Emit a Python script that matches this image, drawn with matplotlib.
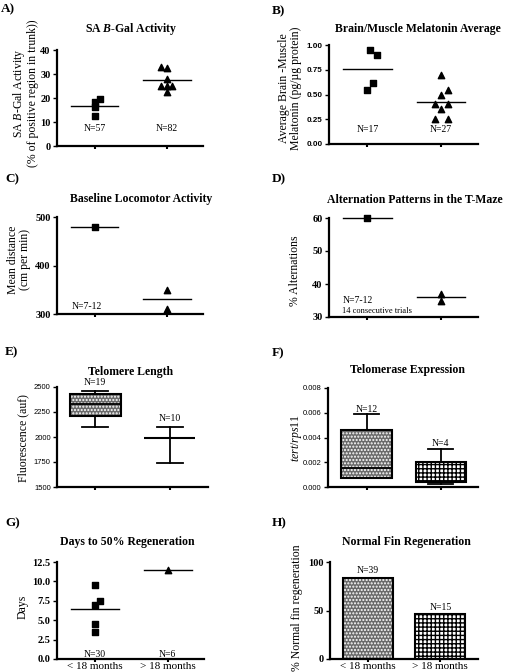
import numpy as np
import matplotlib
matplotlib.use("Agg")
import matplotlib.pyplot as plt
from matplotlib.patches import PathPatch

plt.rcParams['font.family'] = ['Liberation Serif', 'DejaVu Serif']
plt.rcParams['mathtext.fontset'] = 'custom'
plt.rcParams['mathtext.rm'] = 'Liberation Serif'
plt.rcParams['mathtext.it'] = 'Liberation Serif:italic'
plt.rcParams['mathtext.bf'] = 'Liberation Serif:bold'
plt.rcParams['mathtext.bfit'] = 'Liberation Serif:italic:bold'
plt.rcParams['hatch.linewidth'] = 1.0

# ---------------- data ----------------
groups = [1, 2]
group_labels = ["< 18 months", "> 18 months"]

# A) SA B-Gal activity
a_young = [19.4, 18.3, 16.2, 12.7]
a_old = [33.0, 32.4, 27.8, 25.2, 25.2, 25.2, 22.4]
a_n = ["N=57", "N=82"]

# B) Brain/Muscle melatonin
b_young = [0.95, 0.90, 0.615, 0.55]
b_old = [0.70, 0.55, 0.50, 0.40, 0.40, 0.35, 0.25, 0.25]
b_n = ["N=17", "N=27"]

# C) Baseline locomotor activity
c_young = [480]
c_old = [350, 310]

# D) Alternation patterns
d_young = [60]
d_old = [37, 35]

# E) Telomere length (box stats: whislo, q1, med, q3, whishi)
e_young = [2097, 2211, 2332, 2430, 2460]
e_old = [1745, 1990, 1990, 1990, 2097]
e_n = ["N=19", "N=10"]

# F) Telomerase expression
f_young = [0.00072, 0.00072, 0.0015, 0.0046, 0.00586]
f_old = [0.00024, 0.00037, 0.0005, 0.00198, 0.0031]
f_n = ["N=12", "N=4"]

# G) Days to 50% regeneration
g_young = [9.5, 7.5, 7.0, 4.5, 3.5]
g_old = [11.5]
g_n = ["N=30", "N=6"]

# H) Normal fin regeneration
h_vals = [83.6, 46.0]
h_n = ["N=39", "N=15"]

# ---------------- figure ----------------
W, H = 505, 672
fig = plt.figure(figsize=(W / 100, H / 100), dpi=100)

DOT_FACE, DOT_HATCH = '#6a6a6a', '.....'
CHK_HATCH = '++++'


def rect(x0, x1, ytop, ybot):
    return [x0 / W, 1 - ybot / H, (x1 - x0) / W, (ybot - ytop) / H]


def ftext(x, y, s, **kw):
    fig.text(x / W, 1 - y / H, s, **kw)


def style(ax, ylim, yticks, yfmt, sans=False, xlim=(0.48, 2.5)):
    for s in ['top', 'right']:
        ax.spines[s].set_visible(False)
    for s in ['left', 'bottom']:
        ax.spines[s].set_linewidth(1.6)
    ax.set_ylim(*ylim)
    ax.set_xlim(*xlim)
    ax.set_yticks(yticks)
    ax.set_yticklabels([yfmt.format(v) for v in yticks])
    ax.set_xticks(groups)
    ax.set_xticklabels([])
    ax.tick_params(axis='y', direction='out', length=3, width=1.0, pad=1.5)
    ax.tick_params(axis='x', direction='out', length=2, width=1.5)
    for lab in ax.get_yticklabels():
        if sans:
            lab.set_fontfamily('Liberation Sans')
            lab.set_fontsize(5.5)
        else:
            lab.set_fontweight('bold')
            lab.set_fontsize(7.5)
    ax.patch.set_alpha(0)


def scatter_panel(ax, young, old, yo_off, old_off):
    xs_y = [groups[0] + o for o in yo_off]
    xs_o = [groups[1] + o for o in old_off]
    ax.scatter(xs_y, young, marker='s', s=18, color='black', zorder=3, clip_on=False)
    ax.scatter(xs_o, old, marker='^', s=21, color='black', zorder=3, clip_on=False)
    for g, vals in zip(groups, [young, old]):
        m = np.mean(vals)
        ax.plot([g - 0.33, g + 0.33], [m, m], color='black', lw=1.0, zorder=2, clip_on=False)


title_kw = dict(fontsize=8.5, fontweight='bold', ha='center', va='center')
letter_kw = dict(fontsize=9.5, fontweight='bold', ha='left', va='center')
ylab_kw = dict(fontsize=8.5, rotation=90, ha='center', va='center', linespacing=1.0)
n_kw = dict(fontsize=7, ha='center', va='center')

# ---- A ----
axA = fig.add_axes(rect(57, 203, 50, 146))
style(axA, (0, 40), [0, 10, 20, 30, 40], "{:.0f}")
scatter_panel(axA, a_young, a_old, [0.08, 0, 0, 0], [-0.075, 0, 0, -0.075, 0, 0.075, 0])
for g, t in zip(groups, a_n):
    axA.text(g, 7.2, t, **n_kw)
ftext(131, 29, r"SA $\mathbfit{B}$-Gal Activity", **title_kw)
ftext(1, 9, "A)", **letter_kw)
ftext(25, 93, "SA $\\mathit{B}$-Gal Activity\n(% of positive region in trunk))", **ylab_kw)

# ---- B ----
axB = fig.add_axes(rect(329, 478, 45, 144))
style(axB, (0, 1.0), [0, 0.25, 0.5, 0.75, 1.0], "{:.2f}")
for lab in axB.get_yticklabels():
    lab.set_fontfamily('Liberation Sans')
    lab.set_fontsize(5.8)
scatter_panel(axB, b_young, b_old, [0.03, 0.125, 0.08, 0.0], [0, 0.09, 0, -0.08, 0.09, 0, -0.08, 0.09])
for g, t in zip(groups, b_n):
    axB.text(g, 0.145, t, **n_kw)
ftext(418, 29, "Brain/Muscle Melatonin Average", **title_kw)
ftext(272, 11, "B)", **letter_kw)
ftext(290, 88, "Average Brain -Muscle\nMelatonin (pg/\u00b5g protein)", **ylab_kw)

# ---- C ----
axC = fig.add_axes(rect(57, 203, 217, 314))
style(axC, (300, 500), [300, 400, 500], "{:.0f}")
scatter_panel(axC, c_young, c_old, [0], [0, 0])
axC.text(0.69, 315, "N=7-12", fontsize=7, ha='left', va='center')
ftext(141, 199, "Baseline Locomotor Activity", **title_kw)
ftext(5, 179, "C)", **letter_kw)
ftext(19, 260, "Mean distance\n(cm per min)", **ylab_kw)

# ---- D ----
axD = fig.add_axes(rect(329, 478, 218, 317))
style(axD, (30, 60), [30, 40, 50, 60], "{:.0f}")
scatter_panel(axD, d_young, d_old, [0], [0, 0])
axD.text(0.66, 35.0, "N=7-12", fontsize=7, ha='left', va='center')
axD.text(0.66, 31.9, "14 consecutive trials", fontsize=6, ha='left', va='center')
ftext(415, 200, "Alternation Patterns in the T-Maze", **title_kw)
ftext(272, 179, "D)", **letter_kw)
ftext(295, 271, "% Alternations", **ylab_kw)


def box_panel(ax, stats_list, faces, hatches, edges):
    stats = [dict(whislo=s[0], q1=s[1], med=s[2], q3=s[3], whishi=s[4]) for s in stats_list]
    res = ax.bxp(stats, positions=groups, widths=0.68, capwidths=0.34, showfliers=False,
                 patch_artist=True,
                 whiskerprops=dict(color='black', lw=1.3),
                 capprops=dict(color='black', lw=1.3),
                 medianprops=dict(color='black', lw=1.3),
                 manage_ticks=False)
    for p, fc, h, ec in zip(res['boxes'], faces, hatches, edges):
        p.set_facecolor(fc)
        p.set_edgecolor(ec)
        p.set_hatch(h)
        p.set_linewidth(0)
        ax.add_patch(PathPatch(p.get_path(), transform=p.get_transform(), fill=False,
                               edgecolor='black', lw=1.5, zorder=p.get_zorder() + 0.1))
    return res


# ---- E ----
axE = fig.add_axes(rect(57, 208, 387, 487))
style(axE, (1500, 2500), [1500, 1750, 2000, 2250, 2500], "{:.0f}", sans=True, xlim=(0.49, 2.51))
box_panel(axE, [e_young, e_old], [DOT_FACE, 'white'], [DOT_HATCH, ''], ['white', 'black'])
axE.text(groups[0], 2545, e_n[0], clip_on=False, **n_kw)
axE.text(groups[1], 2180, e_n[1], **n_kw)
ftext(131, 372, "Telomere Length", **title_kw)
ftext(5, 352, "E)", **letter_kw)
ftext(23, 438, "Fluorescence (auf)", **ylab_kw)

# ---- F ----
axF = fig.add_axes(rect(328, 478, 388, 487))
style(axF, (0, 0.008), [0, 0.002, 0.004, 0.006, 0.008], "{:.3f}", sans=True)
box_panel(axF, [f_young, f_old], [DOT_FACE, 'white'], [DOT_HATCH, CHK_HATCH], ['white', 'black'])
axF.text(groups[0], 0.0063, f_n[0], **n_kw)
axF.text(groups[1], 0.00348, f_n[1], **n_kw)
ftext(407, 370, "Telomerase Expression", **title_kw)
ftext(272, 353, "F)", **letter_kw)
ftext(297, 438, "$\\mathit{tert/rps11}$", **ylab_kw)

# ---- G ----
axG = fig.add_axes(rect(57, 204, 562, 659))
style(axG, (0, 12.5), [0, 2.5, 5, 7.5, 10, 12.5], "{:.1f}")
scatter_panel(axG, g_young, g_old, [0, 0.07, 0, 0, 0], [0])
for g, t in zip(groups, g_n):
    axG.text(g, 0.6, t, **n_kw)
axG.set_xticklabels(group_labels, fontsize=8)
axG.tick_params(axis='x', pad=0.0)
ftext(127, 542, "Days to 50% Regeneration", **title_kw)
ftext(5, 523, "G)", **letter_kw)
ftext(23, 607, "Days", **ylab_kw)

# ---- H ----
axH = fig.add_axes(rect(330, 478, 562, 659))
style(axH, (0, 100), [0, 50, 100], "{:.0f}", xlim=(0.476, 2.52))
bars_bg = axH.bar(groups, h_vals, width=0.69, color=[DOT_FACE, 'white'],
                  edgecolor=['white', 'black'], lw=0, zorder=2)
for b, h in zip(bars_bg, [DOT_HATCH, CHK_HATCH]):
    b.set_hatch(h)
axH.bar(groups, h_vals, width=0.69, fill=False, edgecolor='black', lw=1.5, zorder=3)
for g, v, t in zip(groups, h_vals, h_n):
    axH.text(g, v + 7.2, t, **n_kw)
axH.set_xticklabels(group_labels, fontsize=8)
axH.tick_params(axis='x', pad=0.0)
ftext(406, 542, "Normal Fin Regeneration", **title_kw)
ftext(272, 523, "H)", **letter_kw)
ftext(297, 608, "% Normal fin regeneration", **ylab_kw)

fig.savefig("out.png", dpi=100)
